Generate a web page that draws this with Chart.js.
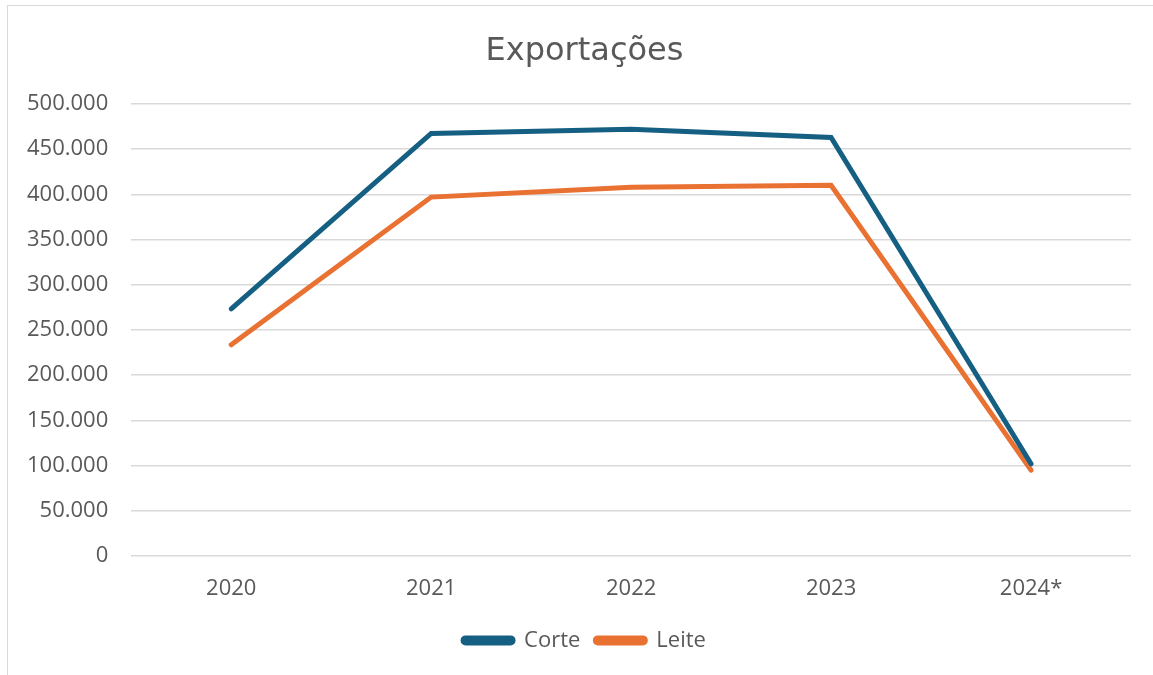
<!DOCTYPE html>
<html lang="pt">
<head>
    <meta charset="UTF-8">
    <title>Exportações</title>
    <style>
        * { margin: 0; padding: 0; box-sizing: border-box; }
        body { width: 1153px; height: 675px; background: #fff; overflow: hidden; position: relative; }
        /* frame of the chart object, runs off the right and bottom edge */
        .frame {
            position: absolute;
            left: 7px; top: 5px;
            width: 1160px; height: 690px;
            border: 1.5px solid #d9d9d9;
        }
        .chart-box {
            position: absolute;
            left: 0; top: 0;
            width: 1153px; height: 675px;
        }
    </style>
    <script src="https://cdn.jsdelivr.net/npm/chart.js"></script>
</head>
<body>
    <div class="frame"></div>
    <div class="chart-box">
        <canvas id="exportChart"></canvas>
    </div>

    <script>
        // Data
        const anos = ['2020', '2021', '2022', '2023', '2024*'];
        const corte = [273500, 467500, 472000, 463000, 102000];
        const leite = [233600, 397000, 408000, 410000, 95000];

        const textColor = '#595959';
        const gridColor = '#d9d9d9';
        const fontFamily = "'Open Sans', 'Noto Sans', sans-serif";

        // title and legend are centred on the whole frame, not on the canvas box
        const centreShift = {
            id: 'centreShift',
            afterLayout(chart) {
                [chart.titleBlock, chart.legend].forEach(b => {
                    if (!b) return;
                    b.left += 17;
                    b.right += 17;
                });
            }
        };

        const ctx = document.getElementById('exportChart').getContext('2d');
        new Chart(ctx, {
            type: 'line',
            data: {
                labels: anos,
                datasets: [
                    {
                        label: 'Corte',
                        data: corte,
                        borderColor: '#156082',
                        backgroundColor: '#156082',
                        borderWidth: 5,
                        borderCapStyle: 'round',
                        borderJoinStyle: 'miter',
                        pointRadius: 0,
                        tension: 0
                    },
                    {
                        label: 'Leite',
                        data: leite,
                        borderColor: '#E97132',
                        backgroundColor: '#E97132',
                        borderWidth: 5,
                        borderCapStyle: 'round',
                        borderJoinStyle: 'miter',
                        pointRadius: 0,
                        tension: 0
                    }
                ]
            },
            options: {
                responsive: true,
                maintainAspectRatio: false,
                animation: false,
                layout: {
                    padding: { left: 4, right: 22, top: 26, bottom: 13.6 }
                },
                plugins: {
                    title: {
                        display: true,
                        text: 'Exportações',
                        color: textColor,
                        font: { family: "'DejaVu Sans', sans-serif", size: 32, weight: 'normal' },
                        padding: { top: 6, bottom: 33.6 }
                    },
                    legend: {
                        position: 'bottom',
                        labels: {
                            color: textColor,
                            font: { family: fontFamily, size: 22 },
                            boxWidth: 50,
                            boxHeight: 5,
                            useBorderRadius: true,
                            borderRadius: 2.5,
                            padding: 15
                        }
                    },
                    tooltip: { enabled: false }
                },
                scales: {
                    x: {
                        offset: true,
                        grid: { display: false },
                        border: { display: false },
                        ticks: {
                            color: textColor,
                            font: { family: fontFamily, size: 22 },
                            padding: 12
                        }
                    },
                    y: {
                        min: 0,
                        max: 500000,
                        grid: {
                            color: gridColor,
                            lineWidth: 1.5,
                            drawTicks: false
                        },
                        border: { display: false },
                        ticks: {
                            stepSize: 50000,
                            color: textColor,
                            font: { family: fontFamily, size: 22 },
                            padding: 23,
                            callback: (v) => v.toLocaleString('pt-BR')
                        }
                    }
                }
            },
            plugins: [centreShift]
        });
    </script>
</body>
</html>
